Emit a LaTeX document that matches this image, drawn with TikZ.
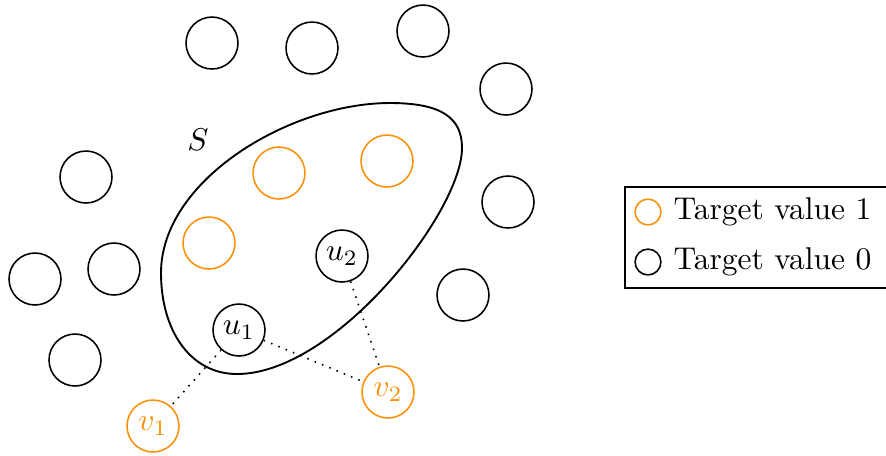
\documentclass[tikz,border=0pt]{standalone}
\definecolor{myorange}{RGB}{250,145,10}
\begin{document}
\begin{tikzpicture}[x=0.3175pt,y=-0.3175pt,
  vtx/.style={circle,draw,line width=0.5pt,minimum size=16.5pt,inner sep=0pt},
  ovtx/.style={vtx,draw=myorange,text=myorange},
  conn/.style={dotted,line width=0.5pt},
  legc/.style={circle,draw,line width=0.5pt,minimum size=8.2pt,inner sep=0pt}]
\useasboundingbox (0,0) rectangle (886,455);
% outside vertices
\node[vtx] (a1) at (212,43) {};
\node[vtx] (a2) at (312,48) {};
\node[vtx] (a3) at (423,31) {};
\node[vtx] (a4) at (506,89) {};
\node[vtx] (a5) at (86,177) {};
\node[vtx] (a6) at (35,279) {};
\node[vtx] (a7) at (114,269) {};
\node[vtx] (a8) at (75,360) {};
\node[vtx] (a9) at (508,202) {};
\node[vtx] (a10) at (463,295) {};
% inside set S
\node[ovtx] (s1) at (279,173) {};
\node[ovtx] (s2) at (387,161) {};
\node[ovtx] (s3) at (209,243) {};
\node[vtx] (u2) at (342,256) {$u_2$};
\node[vtx] (u1) at (239,330) {$u_1$};
\node[ovtx] (v1) at (153,426) {$v_1$};
\node[ovtx] (v2) at (388,392) {$v_2$};
% set boundary
\coordinate (bl) at (161,273);
\coordinate (bt) at (390,103);
\coordinate (br) at (462,148);
\coordinate (bb) at (237,374);
\draw[line width=0.6pt] (bl) .. controls (161,180) and (290,103) .. (bt)
  .. controls (442,103) and (462,118) .. (br)
  .. controls (462,212) and (335,374) .. (bb)
  .. controls (190,374) and (161,330) .. cycle;
\node (S) at (198,140) {$S$};
% connectors
\draw[conn] (u1) -- (v1);
\draw[conn] (u1) -- (v2);
\draw[conn] (u2) -- (v2);
% legend
\draw[line width=0.6pt] (625,187) rectangle (890,288);
\node[legc,draw=myorange] (l1) at (648,212) {};
\node[legc] (l0) at (648,262) {};
\node[anchor=west,inner sep=0pt] (t1) at (673,212) {Target value 1};
\node[anchor=west,inner sep=0pt] (t0) at (673,262) {Target value 0};
\end{tikzpicture}
\end{document}
